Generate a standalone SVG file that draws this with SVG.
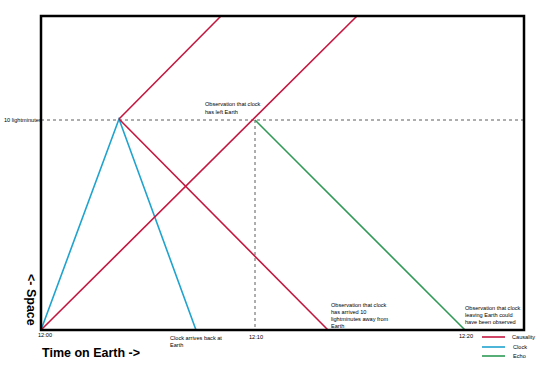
<svg xmlns="http://www.w3.org/2000/svg" width="540" height="365" viewBox="0 0 540 365">
<style>
.t{font-family:"Liberation Sans",Arial,sans-serif;font-size:5.6px;fill:#000}
.b{font-family:"Liberation Sans",Arial,sans-serif;font-weight:bold;font-size:12.5px;fill:#000}
.red{stroke:#C4173F;stroke-width:1.6;fill:none}
.blue{stroke:#1FA3CF;stroke-width:1.6;fill:none}
.green{stroke:#2E9A55;stroke-width:1.6;fill:none}
.dash{stroke:#333;stroke-width:0.8;stroke-dasharray:3,3;fill:none}
</style>
<rect width="540" height="365" fill="#fff"/>
<g id="connectors">
<line class="dash" x1="41" y1="120" x2="524" y2="120"/>
<line class="dash" x1="255" y1="120" x2="255" y2="330"/>
<polyline class="blue" points="41,330 119,119 196,330"/>
<line class="red" x1="41" y1="330" x2="357" y2="16"/>
<line class="red" x1="119" y1="119" x2="221" y2="16"/>
<line class="red" x1="119" y1="119" x2="328" y2="330"/>
<line class="green" x1="255" y1="120" x2="465" y2="330"/>
</g>
<g id="frame">
<rect x="41" y="16" width="483" height="314" fill="none" stroke="#000" stroke-width="2.5"/>
</g>
<g id="axis-labels">
<text class="t" x="4" y="122">10 lightminutes</text>
<text class="t" x="38" y="337">12:00</text>
<text class="t" x="249" y="339">12:10</text>
<text class="t" x="459" y="338">12:20</text>
<text class="b" x="42" y="357">Time on Earth -&gt;</text>
<text class="b" transform="translate(27,274) rotate(90)">&lt;- Space</text>
</g>
<g id="notes">
<text class="t" x="205" y="106">Observation that clock</text>
<text class="t" x="205" y="114">has left Earth</text>
<text class="t" x="170" y="340">Clock arrives back at</text>
<text class="t" x="170" y="347">Earth</text>
<text class="t" x="331" y="307">Observation that clock</text>
<text class="t" x="331" y="314">has arrived 10</text>
<text class="t" x="331" y="321">lightminutes away from</text>
<text class="t" x="331" y="328">Earth</text>
<text class="t" x="465" y="310">Observation that clock</text>
<text class="t" x="465" y="317">leaving Earth could</text>
<text class="t" x="465" y="324">have been observed</text>
</g>
<g id="legend">
<line class="red" x1="482" y1="337" x2="505" y2="337"/>
<line class="blue" x1="482" y1="347" x2="505" y2="347"/>
<line class="green" x1="482" y1="356" x2="505" y2="356"/>
<text class="t" x="512" y="339">Causality</text>
<text class="t" x="513" y="349">Clock</text>
<text class="t" x="513" y="358">Echo</text>
</g>
</svg>
